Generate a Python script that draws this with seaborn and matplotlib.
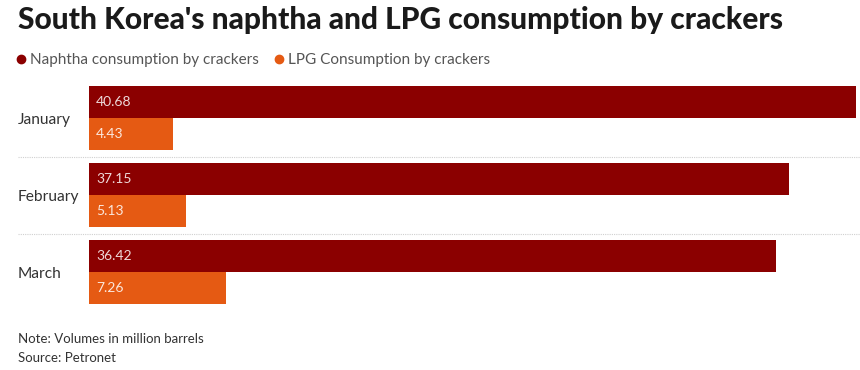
import matplotlib
matplotlib.use("Agg")
import matplotlib.pyplot as plt
import matplotlib.transforms as mtransforms
from matplotlib.lines import Line2D
import seaborn as sns
import pandas as pd

# chart data
months = ["January", "February", "March"]
naphtha = [40.68, 37.15, 36.42]
lpg = [4.43, 5.13, 7.26]
series_names = ["Naphtha consumption by crackers", "LPG Consumption by crackers"]
colors = ["#8b0000", "#e55a13"]

df = pd.DataFrame({
    "month": months * 2,
    "value": naphtha + lpg,
    "series": [series_names[0]] * 3 + [series_names[1]] * 3,
})

sns.set_style("white")
plt.rcParams["font.family"] = ["Lato", "DejaVu Sans"]

W, H = 860, 370
fig = plt.figure(figsize=(W / 100, H / 100), dpi=100)
ax = fig.add_axes([89 / W, 1 - 310.5 / H, 771 / W, 231 / H])

sns.barplot(data=df, y="month", x="value", hue="series", palette=colors,
            orient="h", width=0.83, saturation=1, linewidth=0,
            legend=False, ax=ax)

ax.set_xlim(0, max(naphtha) * 771 / 767)
ax.set_ylim(2.5, -0.5)
ax.set_xlabel("")
ax.set_ylabel("")
ax.set_xticks([])
for s in ax.spines.values():
    s.set_visible(False)

# month labels, left aligned at the left margin
ax.tick_params(axis="y", length=0, pad=71 * 0.72, labelsize=11.2, labelcolor="#333333")
for lab in ax.get_yticklabels():
    lab.set_horizontalalignment("left")

# dotted separators between groups
trans = mtransforms.blended_transform_factory(ax.transAxes, ax.transData)
for yy in [0.5, 1.5]:
    ax.plot([(18 - 89) / 771, 1], [yy, yy], transform=trans, clip_on=False,
            color="#d0d0d0", linestyle=(0, (1, 1)), linewidth=0.8)

# value labels inside bars
for cont, vals in zip(ax.containers, [naphtha, lpg]):
    for bar, v in zip(cont, vals):
        ax.annotate(f"{v:.2f}", xy=(0, bar.get_y() + bar.get_height() / 2),
                    xytext=(5, 0), textcoords="offset points",
                    ha="left", va="center", fontsize=10,
                    color="white", alpha=0.85)

# title
fig.text(18 / W, 1 - 28.5 / H, "South Korea's naphtha and LPG consumption by crackers",
         fontsize=21.5, fontweight="black", color="#1a1a1a", va="baseline", ha="left")

# legend with dots
handles = [Line2D([], [], marker="o", linestyle="", color=c, markersize=6) for c in colors]
fig.legend(handles, series_names, loc="center left", bbox_to_anchor=(13 / W, 1 - 60 / H),
           ncol=2, frameon=False, fontsize=11, handletextpad=0.1,
           columnspacing=0.8, handlelength=1.0, borderaxespad=0, borderpad=0,
           labelcolor="#555555")

# notes
fig.text(18 / W, 1 - 343 / H, "Note: Volumes in million barrels", fontsize=9.5,
         color="#333333", va="baseline", ha="left")
fig.text(18 / W, 1 - 362 / H, "Source: Petronet", fontsize=9.5,
         color="#333333", va="baseline", ha="left")

fig.savefig("out.png", dpi=100)
